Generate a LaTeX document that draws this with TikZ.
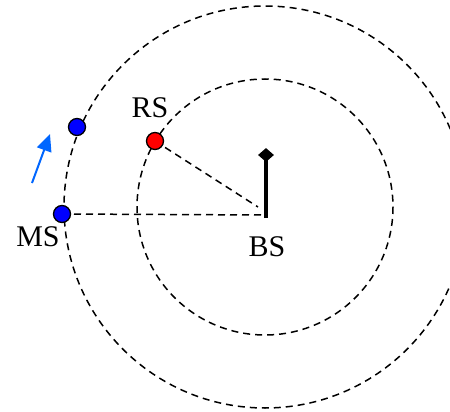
\documentclass[tikz,border=0pt]{standalone}
\usepackage{fontspec}
\setmainfont{Liberation Serif}
\usetikzlibrary{arrows.meta,shapes.geometric}
\begin{document}
\begin{tikzpicture}[x=1pt,y=-1pt,
  dashline/.style={draw=black,line width=1.5pt,dash pattern=on 7pt off 5pt},
  dot/.style={circle,draw=black,line width=1.3pt,minimum size=17pt,inner sep=0pt},
  lbl/.style={font=\fontsize{30}{32}\selectfont,inner sep=0pt},
  pole/.style={line width=4pt},
  tipbox/.style={diamond,fill=black,minimum width=16pt,minimum height=14pt,inner sep=0pt}]
\useasboundingbox (0,0) rectangle (450,412);
\clip (0,0) rectangle (450,412);
% positions
\coordinate (C) at (265,207);
\coordinate (msp) at (62,214);
\coordinate (ms2p) at (77,127);
\coordinate (rsp) at (155,141);
\coordinate (base) at (266,215);
\coordinate (rsend) at (258,207);
\coordinate (poletop) at (266,158);
\coordinate (arrfrom) at (32,183);
\coordinate (arrto) at (50,134);
% circles
\draw[dashline] (C) circle[radius=201];
\draw[dashline] (C) circle[radius=128];
% dashed connectors
\draw[dashline] (msp) -- (base);
\draw[dashline] (rsp) -- (rsend);
% antenna
\draw[pole] (266,218) -- (poletop);
\node[tipbox] (tip) at (266,155) {};
% arrow
\draw[line width=2pt,draw={rgb,255:red,0;green,102;blue,255},-{Triangle[length=17pt,width=15pt]}] (arrfrom) -- (arrto);
% dots
\node[dot,fill=blue] (MS) at (msp) {};
\node[dot,fill=blue] (MS2) at (ms2p) {};
\node[dot,fill=red] (RS) at (rsp) {};
% labels
\node[lbl] (msl) at (38,237) {MS};
\node[lbl] (rsl) at (150,108) {RS};
\node[lbl] (bsl) at (267,247) {BS};
\end{tikzpicture}
\end{document}
